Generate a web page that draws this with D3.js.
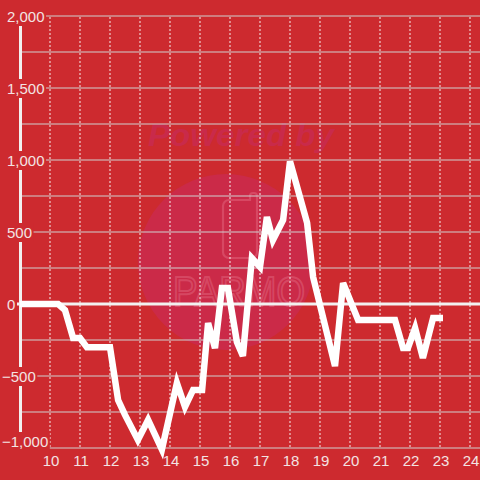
<!DOCTYPE html>
<html>
<head>
<meta charset="utf-8">
<script src="https://cdn.jsdelivr.net/npm/d3@7"></script>
<style>
html,body{margin:0;padding:0;background:#cd2a2f;}
svg{display:block;}
text{font-family:"Liberation Sans",Arial,sans-serif;}
</style>
</head>
<body>
<svg id="chart" width="480" height="480"></svg>
<script>
// Data (x = hour of day, y = value)
const xValues = [9.0, 10.27, 10.5, 10.77, 11.0, 11.23, 12.0, 12.27, 12.5, 12.93, 13.27, 13.73, 14.23, 14.5, 14.77, 15.07, 15.27, 15.5, 15.73, 15.93, 16.23, 16.43, 16.73, 17.0, 17.23, 17.43, 17.77, 18.0, 18.57, 18.77, 19.5, 19.77, 20.27, 21.5, 21.77, 21.93, 22.17, 22.43, 22.77, 23.1];
const yValues = [0, 0, -42, -236, -236, -300, -300, -667, -770, -944, -805, -1010, -549, -715, -597, -597, -132, -306, 111, 111, -264, -361, 319, 257, 604, 444, 583, 990, 563, 188, -431, 146, -111, -111, -306, -306, -167, -375, -97, -97];
const xTicks = [10, 11, 12, 13, 14, 15, 16, 17, 18, 19, 20, 21, 22, 23, 24];
const yTickLabels = [2000, 1500, 1000, 500, 0, -500, -1000];
const yGrid = [2000, 1750, 1500, 1250, 1000, 750, 500, 250, -250, -500, -750, -1000];

const svg = d3.select("#chart");
const W = 480, H = 480;
const x = d3.scaleLinear().domain([9, 24 + 1/3]).range([20, 480]);
const y = d3.scaleLinear().domain([-1000, 2000]).range([448, 16]);

svg.append("rect").attr("width", W).attr("height", H).attr("fill", "#cd2a2f");

// Watermark
const wm = svg.append("g");
wm.append("circle").attr("cx", 226).attr("cy", 262).attr("r", 88).attr("fill", "#cb2a48");
wm.append("text").attr("x", 241).attr("y", 146).attr("text-anchor", "middle")
  .attr("font-size", 32).attr("font-weight", "bold").attr("font-style", "italic")
  .attr("textLength", 186).attr("lengthAdjust", "spacingAndGlyphs")
  .attr("fill", "#c92a4a").text("Powered by");
wm.append("path")
  .attr("d", "M228,200 H250 V196 a3,3 0 0 1 3,-3 H254 a3,3 0 0 1 3,3 V252 a6,6 0 0 1 -6,6 H229 a6,6 0 0 1 -6,-6 V206 a6,6 0 0 1 6,-6 Z")
  .attr("fill", "none").attr("stroke", "#d9506a").attr("stroke-width", 2.2).attr("stroke-opacity", 0.8);
wm.append("text").attr("x", 239).attr("y", 306).attr("text-anchor", "middle")
  .attr("font-family", "DejaVu Sans Mono, monospace").attr("font-size", 42)
  .attr("textLength", 132).attr("lengthAdjust", "spacingAndGlyphs")
  .attr("fill", "none").attr("stroke", "#d9506a").attr("stroke-width", 2).attr("stroke-opacity", 0.8)
  .text("PARMO");

// Horizontal gridlines
svg.append("g").selectAll("line").data(yGrid).join("line")
  .attr("x1", 20).attr("x2", 480)
  .attr("y1", d => y(d)).attr("y2", d => y(d))
  .attr("stroke", "#cfcfcf").attr("stroke-width", 1.2);

// Vertical dotted gridlines
svg.append("g").selectAll("line").data(xTicks).join("line")
  .attr("x1", d => x(d)).attr("x2", d => x(d))
  .attr("y1", 17).attr("y2", 448)
  .attr("stroke", "#f4eeee").attr("stroke-width", 1).attr("stroke-dasharray", "2,2");

// Y axis line
svg.append("line").attr("x1", 20.5).attr("x2", 20.5).attr("y1", 16).attr("y2", 448)
  .attr("stroke", "#f2f0f0").attr("stroke-width", 3);

// Zero line
svg.append("line").attr("x1", 17).attr("x2", 480).attr("y1", y(0)).attr("y2", y(0))
  .attr("stroke", "#f2f0f0").attr("stroke-width", 3);

// Y tick labels with background
const yl = svg.append("g").selectAll("g").data(yTickLabels).join("g");
const fmt = d3.format(",");
yl.each(function(d) {
  const g = d3.select(this);
  const cy = d === -1000 ? y(d) - 6 : y(d) + 1;
  const t = g.append("text")
    .attr("x", d < 0 ? 2 : 7).attr("y", cy).attr("dy", "0.35em")
    .attr("font-size", 15).attr("fill", "#f3e3e3").text(fmt(d));
  const bb = t.node().getBBox();
  g.insert("rect", "text").attr("x", 0).attr("y", cy - 10)
    .attr("width", bb.x + bb.width + 1.5).attr("height", d === -1000 ? 30 : 19).attr("fill", "#cd2a2f");
});

// X tick labels
svg.append("g").selectAll("text").data(xTicks).join("text")
  .attr("x", d => x(d) + 1).attr("y", 466).attr("text-anchor", "middle")
  .attr("font-size", 15).attr("fill", "#f3e3e3").text(d => d);

// Data line
const pts = xValues.map((v, i) => [v, yValues[i]]);
svg.append("path").datum(pts)
  .attr("d", d3.line().x(d => x(d[0])).y(d => y(d[1])))
  .attr("fill", "none").attr("stroke", "#ffffff").attr("stroke-width", 6.5)
  .attr("stroke-linejoin", "miter").attr("stroke-miterlimit", 4);
</script>
</body>
</html>
